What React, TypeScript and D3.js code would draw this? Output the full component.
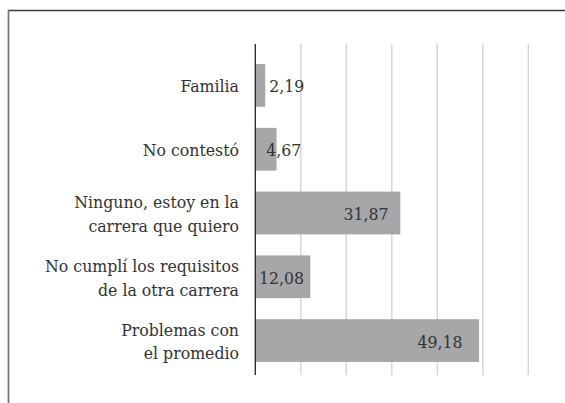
import React from "react";
import * as d3 from "d3";

const categories: string[][] = [
  ["Familia"],
  ["No contestó"],
  ["Ninguno, estoy en la", "carrera que quiero"],
  ["No cumplí los requisitos", "de la otra carrera"],
  ["Problemas con", "el promedio"],
];
const values: number[] = [2.19, 4.67, 31.87, 12.08, 49.18];
const valueLabels: string[] = ["2,19", "4,67", "31,87", "12,08", "49,18"];
const xTicks: number[] = [0, 10, 20, 30, 40, 50, 60];

const W = 565;
const H = 403;
const FONT = "'DejaVu Serif Condensed', 'DejaVu Serif', serif";
const FS = 17.5;

export default function App() {
  const x = d3.scaleLinear().domain([0, 60]).range([255.3, 528.3]);
  const idx = categories.map((_, i) => String(i));
  const y = d3.scaleBand<string>().domain(idx).range([43, 383]).paddingInner(0.33).paddingOuter(0.33);
  const gridTop = 44;
  const gridBottom = 375;
  const bw = y.bandwidth();
  const textStyle: React.CSSProperties = { fontFamily: FONT, fontSize: FS, fontStretch: "condensed" };

  return (
    <svg width={W} height={H} style={{ position: "absolute", left: 0, top: 0, background: "#fff" }}>
      <line x1={8} y1={10.5} x2={W} y2={10.5} stroke="#3a3a3a" strokeWidth={1.5} />
      <line x1={8.5} y1={10} x2={8.5} y2={H} stroke="#777" strokeWidth={1.8} />
      {xTicks.slice(1).map((t) => (
        <line key={t} x1={x(t)} x2={x(t)} y1={gridTop} y2={gridBottom} stroke="#d4d4d4" strokeWidth={1.4} />
      ))}
      {values.map((v, i) => {
        const yy = y(String(i))!;
        return <rect key={i} x={x(0)} y={yy} width={x(v) - x(0)} height={bw} fill="#a7a7a9" />;
      })}
      <line x1={x(0)} x2={x(0)} y1={gridTop} y2={gridBottom} stroke="#222" strokeWidth={1.3} />
      {categories.map((lines, i) => {
        const c = y(String(i))! + bw / 2;
        const n = lines.length;
        return (
          <text key={i} textAnchor="end" style={textStyle} fill="#333">
            {lines.map((l, j) => (
              <tspan key={j} x={239} y={c + 7 + (j - (n - 1) / 2) * 23.5}>
                {l}
              </tspan>
            ))}
          </text>
        );
      })}
      {values.map((v, i) => {
        const c = y(String(i))! + bw / 2;
        const barW = x(v) - x(0);
        let tx: number;
        let anchor: "start" | "end";
        if (barW < 15) {
          tx = x(v) + 4;
          anchor = "start";
        } else if (barW < 40) {
          tx = x(0) + 11;
          anchor = "start";
        } else {
          tx = x(v) - (3 + 0.06 * barW);
          anchor = "end";
        }
        return (
          <text key={i} x={tx} y={c + 7} textAnchor={anchor} style={textStyle} fill="#333">
            {valueLabels[i]}
          </text>
        );
      })}
    </svg>
  );
}
